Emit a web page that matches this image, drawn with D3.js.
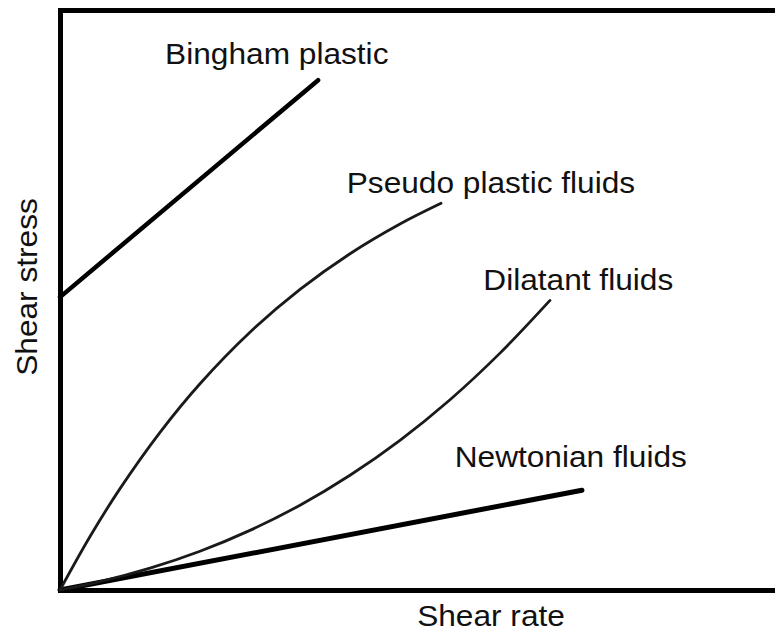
<!DOCTYPE html>
<html lang="en">
<head>
    <meta charset="UTF-8">
    <title>Shear stress vs shear rate</title>
    <script src="https://d3js.org/d3.v7.min.js"></script>
    <style>
        body { margin: 0; background: #fff; }
        svg { display: block; }
        text { font-family: "Liberation Sans", Arial, sans-serif; fill: #111; }
    </style>
</head>
<body>
<svg width="775" height="635"></svg>
<script>
    // curve data, arbitrary units (shear rate 0..100, shear stress 0..100)
    const pseudoRate   = [0, 4.20, 8.39, 13.99, 19.58, 26.57, 33.57, 40.56, 47.55, 53.29];
    const pseudoStress = [0, 9.22, 17.48, 27.19, 35.57, 44.45, 51.83, 57.98, 63.10, 66.67];

    const dilatantRate   = [0, 5.59, 12.59, 19.58, 26.57, 33.57, 40.56, 47.55, 54.55, 61.54, 68.53];
    const dilatantStress = [0, 1.45, 3.78, 6.69, 10.28, 14.62, 19.78, 25.81, 32.81, 40.84, 49.93];

    const newtonRate   = [0, 73.0];
    const newtonStress = [0, 17.2];

    const binghamRate   = [0, 36.1];
    const binghamStress = [50.5, 87.9];

    const labels = ["Bingham plastic", "Pseudo plastic fluids", "Dilatant fluids", "Newtonian fluids"];
    const labelRate   = [14.7, 40.1, 59.2, 55.2];
    const labelStress = [90.7, 68.4, 51.7, 21.2];

    const svg = d3.select("svg");

    const x = d3.scaleLinear().domain([0, 100]).range([60, 775]);
    const y = d3.scaleLinear().domain([0, 100]).range([590, 10]);

    const zip = (a, b) => a.map((v, i) => [v, b[i]]);

    // frame: left, bottom and top lines
    svg.append("g")
        .attr("transform", "translate(0,590)")
        .call(d3.axisBottom(x).tickValues([]).tickSizeOuter(0));
    svg.append("g")
        .attr("transform", "translate(0,10)")
        .call(d3.axisTop(x).tickValues([]).tickSizeOuter(0));
    svg.append("g")
        .attr("transform", "translate(60,0)")
        .call(d3.axisLeft(y).tickValues([]).tickSizeOuter(0));
    svg.selectAll(".domain")
        .attr("stroke", "#000")
        .attr("stroke-width", 5)
        .attr("stroke-linecap", "square");

    const line = d3.line()
        .x(d => x(d[0]))
        .y(d => y(d[1]));

    // straight lines
    svg.append("path")
        .datum(zip(binghamRate, binghamStress))
        .attr("fill", "none")
        .attr("stroke", "#000")
        .attr("stroke-width", 4.5)
        .attr("stroke-linecap", "round")
        .attr("d", line);

    svg.append("path")
        .datum(zip(newtonRate, newtonStress))
        .attr("fill", "none")
        .attr("stroke", "#000")
        .attr("stroke-width", 5)
        .attr("stroke-linecap", "round")
        .attr("d", line);

    // curves
    const curve = d3.line()
        .x(d => x(d[0]))
        .y(d => y(d[1]))
        .curve(d3.curveCatmullRom.alpha(0.5));

    [zip(pseudoRate, pseudoStress), zip(dilatantRate, dilatantStress)].forEach(pts => {
        svg.append("path")
            .datum(pts)
            .attr("fill", "none")
            .attr("stroke", "#1a1a1a")
            .attr("stroke-width", 2.8)
            .attr("stroke-linecap", "round")
            .attr("d", curve);
    });

    // labels (reference text is slightly wider than Arial)
    const stretch = 1.055;
    svg.selectAll(".lbl")
        .data(labels)
        .join("text")
        .attr("class", "lbl")
        .attr("transform", (d, i) => `translate(${x(labelRate[i])},${y(labelStress[i])}) scale(${stretch},1)`)
        .attr("font-size", 30)
        .text(d => d);

    // axis titles
    svg.append("text")
        .attr("transform", `translate(491,626) scale(${stretch},1)`)
        .attr("text-anchor", "middle")
        .attr("font-size", 30)
        .text("Shear rate");

    svg.append("text")
        .attr("transform", `translate(37,287) rotate(-90) scale(${stretch},1)`)
        .attr("text-anchor", "middle")
        .attr("font-size", 30)
        .text("Shear stress");
</script>
</body>
</html>
